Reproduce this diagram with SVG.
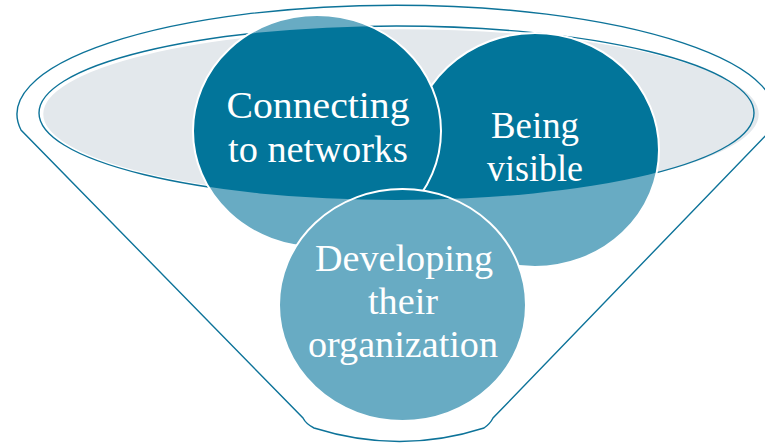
<svg xmlns="http://www.w3.org/2000/svg" width="765" height="445" viewBox="0 0 765 445">
  <defs>
    <style>
      .line { fill: none; stroke: #0d7399; stroke-width: 1.4; }
      .base { fill: #68abc3; }
      .dark { fill: #02759a; }
      .ring { fill: none; stroke: #ffffff; stroke-width: 2; }
      .label { font-size: 38px; fill: #ffffff; text-anchor: middle; }
    </style>
    <clipPath id="lens">
      <ellipse cx="396.5" cy="113" rx="357.5" ry="87"/>
    </clipPath>
  </defs>
  <rect width="765" height="445" fill="#ffffff"/>

  <g id="funnel">
    <path class="line" d="M 21 130 A 379 109 0 1 1 771 130 L 493 418 Q 490 424 484 428 Q 400 455 314 428 Q 306 424 303 418 Z"/>
    <ellipse cx="401" cy="114" rx="359" ry="86" fill="#e3e8ec" stroke="#ffffff" stroke-width="2.5"/>
    <ellipse class="line" cx="396.5" cy="113" rx="357.5" ry="87"/>
  </g>

  <g font-family="'Liberation Serif', 'Times New Roman', serif">
  <g id="node-visible">
    <ellipse class="base" cx="535" cy="150" rx="124" ry="117"/>
    <ellipse class="dark" cx="535" cy="150" rx="124" ry="117" clip-path="url(#lens)"/>
    <ellipse class="ring" cx="535" cy="150" rx="124" ry="117"/>
    <text class="label" x="535" y="138" textLength="88" lengthAdjust="spacingAndGlyphs">Being</text>
    <text class="label" x="535" y="181" textLength="96" lengthAdjust="spacingAndGlyphs">visible</text>
  </g>

  <g id="node-connecting">
    <ellipse class="base" cx="317" cy="131" rx="124" ry="116"/>
    <ellipse class="dark" cx="317" cy="131" rx="124" ry="116" clip-path="url(#lens)"/>
    <ellipse class="ring" cx="317" cy="131" rx="124" ry="116"/>
    <text class="label" x="318" y="118" textLength="183" lengthAdjust="spacingAndGlyphs">Connecting</text>
    <text class="label" x="318" y="162" textLength="180" lengthAdjust="spacingAndGlyphs">to networks</text>
  </g>

  <g id="node-developing">
    <ellipse class="base" cx="402.5" cy="305" rx="123.5" ry="116"/>
    <ellipse class="dark" cx="402.5" cy="305" rx="123.5" ry="116" clip-path="url(#lens)"/>
    <ellipse class="ring" cx="402.5" cy="305" rx="123.5" ry="116"/>
    <text class="label" x="404" y="271" textLength="178" lengthAdjust="spacingAndGlyphs">Developing</text>
    <text class="label" x="403" y="314" textLength="70" lengthAdjust="spacingAndGlyphs">their</text>
    <text class="label" x="403" y="357" textLength="190" lengthAdjust="spacingAndGlyphs">organization</text>
  </g>
  </g>
</svg>
